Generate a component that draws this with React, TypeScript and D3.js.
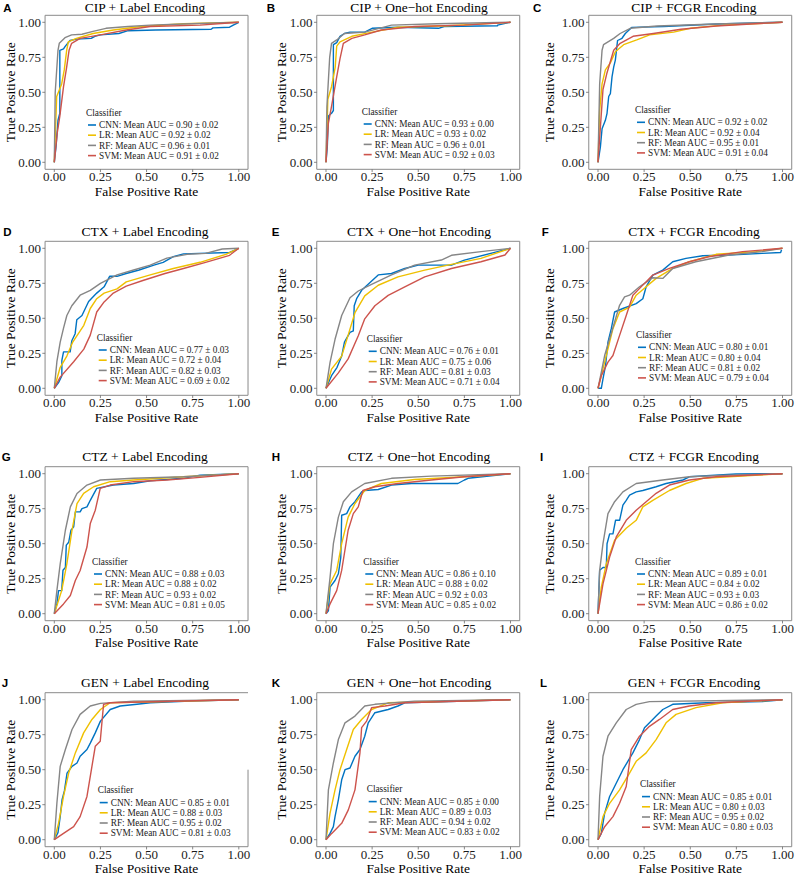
import React from 'react';
import * as d3 from 'd3';

// ---------------- data ----------------
const drugs = ['CIP', 'CTX', 'CTZ', 'GEN'];
const encodings = ['Label Encoding', 'One\u2212hot Encoding', 'FCGR Encoding'];
const panelLetters = ['A', 'B', 'C', 'D', 'E', 'F', 'G', 'H', 'I', 'J', 'K', 'L'];
const classifiers = ['CNN', 'LR', 'RF', 'SVM'];
const classifierColors = ['#0073C2', '#EFC000', '#868686', '#CD534C'];
const axisTicks = [0, 0.25, 0.5, 0.75, 1];

const aucMean = [
  ['0.90', '0.92', '0.96', '0.91'],
  ['0.93', '0.93', '0.96', '0.92'],
  ['0.92', '0.92', '0.95', '0.91'],
  ['0.77', '0.72', '0.82', '0.69'],
  ['0.76', '0.75', '0.81', '0.71'],
  ['0.80', '0.80', '0.81', '0.79'],
  ['0.88', '0.88', '0.93', '0.81'],
  ['0.86', '0.88', '0.92', '0.85'],
  ['0.89', '0.84', '0.93', '0.86'],
  ['0.85', '0.88', '0.95', '0.81'],
  ['0.85', '0.89', '0.94', '0.83'],
  ['0.85', '0.80', '0.95', '0.80'],
];
const aucSd = [
  ['0.02', '0.02', '0.01', '0.02'],
  ['0.00', '0.02', '0.01', '0.03'],
  ['0.02', '0.04', '0.01', '0.04'],
  ['0.03', '0.04', '0.03', '0.02'],
  ['0.01', '0.06', '0.03', '0.04'],
  ['0.01', '0.04', '0.02', '0.04'],
  ['0.03', '0.02', '0.02', '0.05'],
  ['0.10', '0.02', '0.03', '0.02'],
  ['0.01', '0.02', '0.03', '0.02'],
  ['0.01', '0.03', '0.02', '0.03'],
  ['0.00', '0.03', '0.02', '0.02'],
  ['0.01', '0.03', '0.02', '0.03'],
];

type Pt = [number, number];

// Panel A: CIP + Label
const rocA_CNN: Pt[] = [[0,0],[0.01,0.12],[0.02,0.3],[0.03,0.35],[0.03,0.8],[0.05,0.81],[0.06,0.83],[0.085,0.87],[0.12,0.88],[0.2,0.885],[0.22,0.9],[0.25,0.91],[0.35,0.92],[0.4,0.94],[0.55,0.945],[0.85,0.95],[0.86,0.96],[0.95,0.965],[0.97,0.98],[1,1]];
const rocA_LR: Pt[] = [[0,0],[0.013,0.47],[0.04,0.56],[0.054,0.66],[0.067,0.8],[0.076,0.86],[0.12,0.885],[0.21,0.92],[0.32,0.945],[0.47,0.97],[0.7,0.99],[1,1]];
const rocA_RF: Pt[] = [[0,0],[0.005,0.5],[0.02,0.8],[0.027,0.85],[0.058,0.89],[0.094,0.91],[0.15,0.915],[0.21,0.935],[0.28,0.957],[0.4,0.97],[0.52,0.98],[0.7,0.988],[1,1]];
const rocA_SVM: Pt[] = [[0,0],[0.016,0.21],[0.03,0.33],[0.05,0.54],[0.067,0.68],[0.08,0.8],[0.094,0.85],[0.14,0.885],[0.25,0.91],[0.39,0.945],[0.52,0.97],[0.79,0.98],[1,1]];
// Panel B: CIP + One-hot
const rocB_CNN: Pt[] = [[0,0],[0.007,0.11],[0.013,0.33],[0.03,0.35],[0.04,0.37],[0.04,0.84],[0.058,0.855],[0.076,0.9],[0.1,0.92],[0.13,0.93],[0.21,0.93],[0.25,0.957],[0.39,0.965],[0.61,0.957],[0.64,0.97],[0.93,0.975],[0.93,0.98],[1,1]];
const rocB_LR: Pt[] = [[0,0],[0.01,0.45],[0.03,0.54],[0.05,0.68],[0.058,0.83],[0.076,0.86],[0.14,0.9],[0.25,0.93],[0.39,0.965],[0.66,0.975],[1,1]];
const rocB_RF: Pt[] = [[0,0],[0.005,0.4],[0.02,0.75],[0.03,0.85],[0.058,0.874],[0.1,0.92],[0.21,0.93],[0.355,0.98],[0.6,0.99],[1,1]];
const rocB_SVM: Pt[] = [[0,0],[0.013,0.28],[0.03,0.4],[0.058,0.61],[0.076,0.74],[0.094,0.85],[0.14,0.885],[0.21,0.91],[0.3,0.945],[0.48,0.97],[0.75,0.98],[1,1]];
// Panel C: CIP + FCGR
const rocC_CNN: Pt[] = [[0,0],[0.013,0.11],[0.022,0.24],[0.04,0.3],[0.049,0.35],[0.058,0.47],[0.067,0.49],[0.076,0.61],[0.085,0.68],[0.094,0.73],[0.1,0.8],[0.106,0.87],[0.13,0.886],[0.148,0.92],[0.184,0.964],[0.356,0.97],[0.644,0.988],[1,1]];
const rocC_LR: Pt[] = [[0,0],[0.009,0.37],[0.022,0.56],[0.04,0.66],[0.067,0.71],[0.094,0.79],[0.139,0.84],[0.21,0.874],[0.28,0.91],[0.41,0.93],[0.5,0.957],[0.68,0.98],[1,1]];
const rocC_RF: Pt[] = [[0,0],[0.009,0.56],[0.022,0.8],[0.03,0.84],[0.085,0.885],[0.12,0.92],[0.175,0.957],[0.32,0.974],[0.64,0.988],[1,1]];
const rocC_SVM: Pt[] = [[0,0],[0.013,0.25],[0.027,0.52],[0.049,0.64],[0.067,0.72],[0.085,0.8],[0.12,0.85],[0.19,0.9],[0.3,0.92],[0.45,0.95],[0.64,0.974],[1,1]];
// Panel D: CTX + Label
const rocD_CNN: Pt[] = [[0,0],[0.023,0.04],[0.041,0.09],[0.041,0.2],[0.05,0.26],[0.086,0.26],[0.095,0.34],[0.113,0.39],[0.122,0.49],[0.15,0.52],[0.168,0.57],[0.186,0.62],[0.23,0.68],[0.27,0.725],[0.3,0.8],[0.34,0.8],[0.39,0.82],[0.46,0.845],[0.54,0.88],[0.59,0.9],[0.645,0.94],[0.7,0.96],[0.95,0.97],[1,1]];
const rocD_LR: Pt[] = [[0,0],[0.032,0.15],[0.068,0.23],[0.1,0.33],[0.16,0.45],[0.195,0.57],[0.23,0.64],[0.27,0.68],[0.34,0.71],[0.39,0.76],[0.52,0.81],[0.645,0.856],[0.79,0.9],[0.93,0.957],[1,1]];
const rocD_RF: Pt[] = [[0,0],[0.014,0.19],[0.032,0.33],[0.05,0.43],[0.068,0.52],[0.095,0.59],[0.14,0.665],[0.195,0.7],[0.25,0.75],[0.34,0.81],[0.43,0.845],[0.52,0.88],[0.61,0.93],[0.72,0.957],[0.82,0.964],[0.91,0.995],[1,1]];
const rocD_SVM: Pt[] = [[0,0],[0.032,0.08],[0.105,0.19],[0.16,0.28],[0.195,0.38],[0.23,0.545],[0.27,0.617],[0.32,0.68],[0.39,0.73],[0.48,0.77],[0.6,0.82],[0.7,0.856],[0.82,0.9],[0.95,0.95],[1,1]];
// Panel E: CTX + One-hot
const rocE_CNN: Pt[] = [[0,0],[0.03,0.09],[0.06,0.15],[0.085,0.23],[0.1,0.33],[0.13,0.4],[0.148,0.41],[0.153,0.59],[0.166,0.64],[0.193,0.7],[0.283,0.81],[0.355,0.82],[0.427,0.856],[0.5,0.88],[0.68,0.88],[0.75,0.916],[0.93,0.976],[1,1]];
const rocE_LR: Pt[] = [[0,0],[0.03,0.137],[0.085,0.23],[0.12,0.38],[0.157,0.54],[0.21,0.66],[0.283,0.736],[0.39,0.796],[0.535,0.844],[0.68,0.885],[0.84,0.928],[1,1]];
const rocE_RF: Pt[] = [[0,0],[0.022,0.185],[0.049,0.35],[0.085,0.52],[0.13,0.647],[0.175,0.695],[0.247,0.743],[0.355,0.81],[0.48,0.88],[0.625,0.916],[0.68,0.95],[0.84,0.976],[1,1]];
const rocE_SVM: Pt[] = [[0,0],[0.067,0.11],[0.12,0.21],[0.175,0.376],[0.21,0.496],[0.265,0.59],[0.337,0.664],[0.427,0.724],[0.535,0.796],[0.68,0.856],[0.84,0.904],[0.97,0.952],[1,1]];
// Panel F: CTX + FCGR
const rocF_CNN: Pt[] = [[0,0],[0.018,0],[0.027,0.067],[0.041,0.163],[0.054,0.33],[0.072,0.426],[0.09,0.545],[0.135,0.57],[0.207,0.605],[0.243,0.64],[0.261,0.725],[0.297,0.809],[0.351,0.844],[0.405,0.904],[0.477,0.928],[0.568,0.947],[0.71,0.952],[0.89,0.964],[0.99,0.97],[0.995,0.99]];
const rocF_LR: Pt[] = [[0,0],[0.027,0.139],[0.054,0.282],[0.081,0.426],[0.117,0.545],[0.171,0.58],[0.207,0.665],[0.261,0.725],[0.315,0.785],[0.405,0.856],[0.495,0.904],[0.64,0.957],[0.856,0.976],[1,1]];
const rocF_RF: Pt[] = [[0,0],[0.018,0.115],[0.036,0.234],[0.063,0.354],[0.09,0.474],[0.117,0.593],[0.144,0.653],[0.171,0.665],[0.225,0.725],[0.297,0.79],[0.351,0.785],[0.405,0.856],[0.53,0.904],[0.71,0.952],[0.89,0.976],[1,1]];
const rocF_SVM: Pt[] = [[0,0],[0.018,0.09],[0.054,0.187],[0.081,0.234],[0.117,0.378],[0.153,0.52],[0.189,0.665],[0.243,0.737],[0.297,0.809],[0.387,0.856],[0.495,0.904],[0.6,0.94],[0.784,0.976],[1,1]];
// Panel G: CTZ + Label
const rocG_CNN: Pt[] = [[0,0],[0.014,0.07],[0.023,0.165],[0.04,0.165],[0.047,0.31],[0.06,0.33],[0.065,0.49],[0.078,0.51],[0.09,0.596],[0.105,0.62],[0.114,0.727],[0.14,0.727],[0.15,0.75],[0.177,0.763],[0.195,0.81],[0.23,0.895],[0.32,0.919],[0.43,0.93],[0.52,0.95],[0.7,0.967],[0.79,0.99],[1,1]];
const rocG_LR: Pt[] = [[0,0],[0.04,0.165],[0.068,0.356],[0.096,0.596],[0.123,0.787],[0.159,0.859],[0.213,0.907],[0.303,0.943],[0.43,0.955],[0.7,0.978],[1,1]];
const rocG_RF: Pt[] = [[0,0],[0.014,0.165],[0.032,0.356],[0.06,0.596],[0.087,0.763],[0.123,0.859],[0.177,0.919],[0.25,0.955],[0.43,0.967],[0.7,0.978],[1,1]];
const rocG_SVM: Pt[] = [[0,0],[0.05,0.07],[0.087,0.13],[0.114,0.237],[0.14,0.309],[0.177,0.476],[0.195,0.644],[0.222,0.739],[0.249,0.895],[0.303,0.919],[0.43,0.943],[0.61,0.955],[0.79,0.974],[1,1]];
// Panel H: CTZ + One-hot
const rocH_CNN: Pt[] = [[0,0],[0.013,0.02],[0.022,0.19],[0.049,0.237],[0.067,0.285],[0.08,0.4],[0.085,0.703],[0.112,0.715],[0.13,0.763],[0.157,0.8],[0.193,0.87],[0.21,0.88],[0.283,0.887],[0.355,0.919],[0.463,0.93],[0.715,0.93],[0.75,0.955],[0.77,0.967],[1,1]];
const rocH_LR: Pt[] = [[0,0],[0.022,0.213],[0.058,0.309],[0.085,0.5],[0.12,0.69],[0.157,0.787],[0.21,0.88],[0.3,0.93],[0.48,0.959],[0.75,0.978],[1,1]];
const rocH_RF: Pt[] = [[0,0],[0.022,0.26],[0.04,0.5],[0.067,0.69],[0.094,0.8],[0.139,0.87],[0.21,0.93],[0.355,0.967],[0.57,0.983],[1,1]];
const rocH_SVM: Pt[] = [[0,0],[0.022,0.07],[0.058,0.165],[0.085,0.309],[0.12,0.596],[0.148,0.715],[0.175,0.763],[0.2,0.88],[0.265,0.907],[0.39,0.93],[0.57,0.955],[0.75,0.978],[1,1]];
// Panel I: CTZ + FCGR
const rocI_CNN: Pt[] = [[0,0],[0.009,0.31],[0.027,0.33],[0.045,0.33],[0.049,0.5],[0.063,0.57],[0.081,0.57],[0.095,0.667],[0.117,0.667],[0.135,0.775],[0.153,0.81],[0.171,0.847],[0.207,0.87],[0.243,0.88],[0.315,0.907],[0.369,0.93],[0.46,0.955],[0.495,0.978],[0.748,0.998],[1,1]];
const rocI_LR: Pt[] = [[0,0],[0.018,0.19],[0.045,0.356],[0.09,0.524],[0.153,0.61],[0.207,0.667],[0.243,0.763],[0.297,0.81],[0.387,0.88],[0.477,0.93],[0.568,0.967],[1,1]];
const rocI_RF: Pt[] = [[0,0],[0.009,0.31],[0.027,0.5],[0.054,0.715],[0.09,0.8],[0.135,0.87],[0.207,0.93],[0.351,0.955],[0.495,0.978],[0.71,0.99],[1,1]];
const rocI_SVM: Pt[] = [[0,0],[0.027,0.213],[0.063,0.404],[0.099,0.548],[0.153,0.667],[0.207,0.739],[0.261,0.8],[0.315,0.86],[0.387,0.919],[0.495,0.955],[0.64,0.978],[1,1]];
// Panel J: GEN + Label
const rocJ_CNN: Pt[] = [[0,0],[0.02,0.05],[0.032,0.165],[0.042,0.285],[0.055,0.35],[0.069,0.476],[0.096,0.524],[0.123,0.548],[0.14,0.596],[0.177,0.644],[0.195,0.69],[0.222,0.763],[0.25,0.847],[0.303,0.93],[0.357,0.955],[0.448,0.967],[0.52,0.978],[0.736,0.99],[1,1]];
const rocJ_LR: Pt[] = [[0,0],[0.023,0.117],[0.05,0.309],[0.078,0.476],[0.114,0.62],[0.159,0.763],[0.204,0.859],[0.25,0.93],[0.303,0.978],[1,1]];
const rocJ_RF: Pt[] = [[0,0],[0.014,0.26],[0.032,0.524],[0.06,0.644],[0.096,0.787],[0.14,0.895],[0.195,0.955],[0.25,0.974],[0.43,0.99],[1,1]];
const rocJ_SVM: Pt[] = [[0,0],[0.05,0.045],[0.105,0.093],[0.14,0.165],[0.177,0.309],[0.204,0.524],[0.222,0.667],[0.249,0.703],[0.267,0.967],[0.303,0.978],[1,1]];
// Panel K: GEN + One-hot
const rocK_CNN: Pt[] = [[0,0],[0.022,0.045],[0.04,0.093],[0.049,0.165],[0.067,0.285],[0.085,0.428],[0.103,0.5],[0.13,0.512],[0.157,0.596],[0.184,0.644],[0.21,0.739],[0.229,0.835],[0.265,0.907],[0.337,0.93],[0.39,0.955],[0.427,0.978],[1,1]];
const rocK_LR: Pt[] = [[0,0],[0.022,0.19],[0.049,0.356],[0.076,0.5],[0.112,0.644],[0.148,0.787],[0.193,0.859],[0.247,0.93],[0.337,0.978],[1,1]];
const rocK_RF: Pt[] = [[0,0],[0.013,0.356],[0.04,0.548],[0.067,0.715],[0.103,0.835],[0.157,0.883],[0.21,0.955],[0.265,0.967],[0.48,0.99],[1,1]];
const rocK_SVM: Pt[] = [[0,0],[0.031,0.045],[0.085,0.117],[0.121,0.213],[0.157,0.356],[0.184,0.62],[0.193,0.8],[0.22,0.847],[0.247,0.943],[0.32,0.955],[0.427,0.978],[1,1]];
// Panel L: GEN + FCGR
const rocL_CNN: Pt[] = [[0,0],[0.018,0.045],[0.036,0.19],[0.063,0.309],[0.09,0.38],[0.135,0.5],[0.189,0.62],[0.225,0.715],[0.252,0.8],[0.279,0.835],[0.315,0.883],[0.351,0.93],[0.405,0.967],[0.586,0.978],[0.89,0.986],[1,1]];
const rocL_LR: Pt[] = [[0,0],[0.027,0.165],[0.063,0.26],[0.117,0.356],[0.171,0.476],[0.207,0.56],[0.261,0.62],[0.315,0.715],[0.369,0.835],[0.423,0.895],[0.531,0.943],[0.676,0.978],[1,1]];
const rocL_RF: Pt[] = [[0,0],[0.009,0.31],[0.027,0.596],[0.054,0.739],[0.099,0.835],[0.153,0.93],[0.207,0.967],[0.279,0.986],[1,1]];
const rocL_SVM: Pt[] = [[0,0],[0.036,0.093],[0.081,0.165],[0.117,0.26],[0.153,0.38],[0.18,0.644],[0.225,0.739],[0.279,0.81],[0.333,0.859],[0.405,0.93],[0.495,0.955],[0.64,0.978],[1,1]];

const panelCurves: Pt[][][] = [
  [rocA_CNN, rocA_LR, rocA_RF, rocA_SVM],
  [rocB_CNN, rocB_LR, rocB_RF, rocB_SVM],
  [rocC_CNN, rocC_LR, rocC_RF, rocC_SVM],
  [rocD_CNN, rocD_LR, rocD_RF, rocD_SVM],
  [rocE_CNN, rocE_LR, rocE_RF, rocE_SVM],
  [rocF_CNN, rocF_LR, rocF_RF, rocF_SVM],
  [rocG_CNN, rocG_LR, rocG_RF, rocG_SVM],
  [rocH_CNN, rocH_LR, rocH_RF, rocH_SVM],
  [rocI_CNN, rocI_LR, rocI_RF, rocI_SVM],
  [rocJ_CNN, rocJ_LR, rocJ_RF, rocJ_SVM],
  [rocK_CNN, rocK_LR, rocK_RF, rocK_SVM],
  [rocL_CNN, rocL_LR, rocL_RF, rocL_SVM],
];

// ---------------- layout ----------------
const W = 799;
const H = 876;
const colZeroX = [54.3, 326, 598];
const rowOneY = [22.3, 248.3, 473.7, 699.7];
const unitW = 184.5;
const unitH = 140;
const titleX = [145, 419, 694];
const yTitleOffset = [30.5, 30.5, 35];
const letterX = [3.3, 266.7, 533, 3.3, 271.7, 541.7, 1.7, 271.7, 540, 1.7, 271.7, 540];
const legendX = [86, 361.7, 635, 96.7, 366.7, 636, 92, 363.3, 635, 97.7, 366.7, 640];
const legendDy = [90.4, 89.4, 87.7, 89.4, 90.7, 86.7, 88, 88, 88, 90.6, 89.6, 84.6];

const SERIF = '"Liberation Serif", "Times New Roman", Times, serif';
const SANS = '"Liberation Sans", Arial, Helvetica, sans-serif';
const FRAME = '#8a8a8a';
const TICK = '#6a6a6a';
const fmt = d3.format('.2f');

function Panel({ idx }: { idx: number }) {
  const col = idx % 3;
  const row = Math.floor(idx / 3);
  const x0 = colZeroX[col];
  const y1 = rowOneY[row];
  const x = d3.scaleLinear().domain([0, 1]).range([x0, x0 + unitW]);
  const y = d3.scaleLinear().domain([0, 1]).range([y1 + unitH, y1]);
  const fl = x(-0.05), fr = x(1.05), ft = y(1.05), fb = y(-0.05);
  const line = d3.line<Pt>().x(d => x(d[0])).y(d => y(d[1]));
  const lgx = legendX[idx];
  const lgy = y1 + legendDy[idx];
  const title = `${drugs[row]} + ${encodings[col]}`;
  const headY = Math.max(ft - 5.3, 11.5);
  // panel J in the reference has the upper part of its right border hidden
  const rightTop = idx === 9 ? y(0.5) : ft;
  return (
    <g>
      <text x={letterX[idx]} y={headY} fontFamily={SANS} fontWeight="bold" fontSize={11.5} fill="#000">{panelLetters[idx]}</text>
      <text x={titleX[col]} y={headY} textAnchor="middle" fontFamily={SERIF} fontSize={13.5} fill="#000">{title}</text>
      {panelCurves[idx].map((c, i) => (
        <path key={i} d={line(c) || ''} fill="none" stroke={classifierColors[i]} strokeWidth={1.4} strokeLinejoin="round" />
      ))}
      <g stroke={FRAME} strokeWidth={1} fill="none">
        <line x1={fl} x2={fr} y1={ft} y2={ft} />
        <line x1={fl} x2={fr} y1={fb} y2={fb} />
        <line x1={fl} x2={fl} y1={ft} y2={fb} />
        <line x1={fr} x2={fr} y1={rightTop} y2={fb} />
      </g>
      {axisTicks.map(t => (
        <g key={'x' + t}>
          <line x1={x(t)} x2={x(t)} y1={fb} y2={fb + 2.75} stroke={TICK} strokeWidth={0.8} />
          <text x={x(t)} y={fb + 11.8} textAnchor="middle" fontFamily={SERIF} fontSize={13} fill="#1a1a1a">{fmt(t)}</text>
        </g>
      ))}
      {axisTicks.map(t => (
        <g key={'y' + t}>
          <line x1={fl - 2.75} x2={fl} y1={y(t)} y2={y(t)} stroke={TICK} strokeWidth={0.8} />
          <text x={fl - 4.2} y={y(t)} dy="0.34em" textAnchor="end" fontFamily={SERIF} fontSize={13} fill="#1a1a1a">{fmt(t)}</text>
        </g>
      ))}
      <text x={(fl + fr) / 2} y={fb + 26.5} textAnchor="middle" fontFamily={SERIF} fontSize={13.5} fill="#000">False Positive Rate</text>
      <text transform={`translate(${fl - yTitleOffset[col]},${(ft + fb) / 2}) rotate(-90)`} textAnchor="middle" fontFamily={SERIF} fontSize={13.5} fill="#000">True Positive Rate</text>
      <g>
        <text x={lgx} y={lgy} dy="0.34em" fontFamily={SERIF} fontSize={9.3} fill="#222">Classifier</text>
        {classifiers.map((c, i) => {
          const cy = lgy + 12.3 + i * 10.2;
          return (
            <g key={c}>
              <line x1={lgx + 2} x2={lgx + 10} y1={cy} y2={cy} stroke={classifierColors[i]} strokeWidth={1.6} />
              <text x={lgx + 13} y={cy} dy="0.34em" fontFamily={SERIF} fontSize={9.3} fill="#222">
                {`${c}: Mean AUC = ${aucMean[idx][i]} \u00b1 ${aucSd[idx][i]}`}
              </text>
            </g>
          );
        })}
      </g>
    </g>
  );
}

export default function App() {
  return (
    <svg width={W} height={H} viewBox={`0 0 ${W} ${H}`} style={{ position: 'absolute', left: 0, top: 0, background: '#fff' }}>
      <rect x={0} y={0} width={W} height={H} fill="#fff" />
      {panelLetters.map((_, i) => <Panel key={i} idx={i} />)}
    </svg>
  );
}
